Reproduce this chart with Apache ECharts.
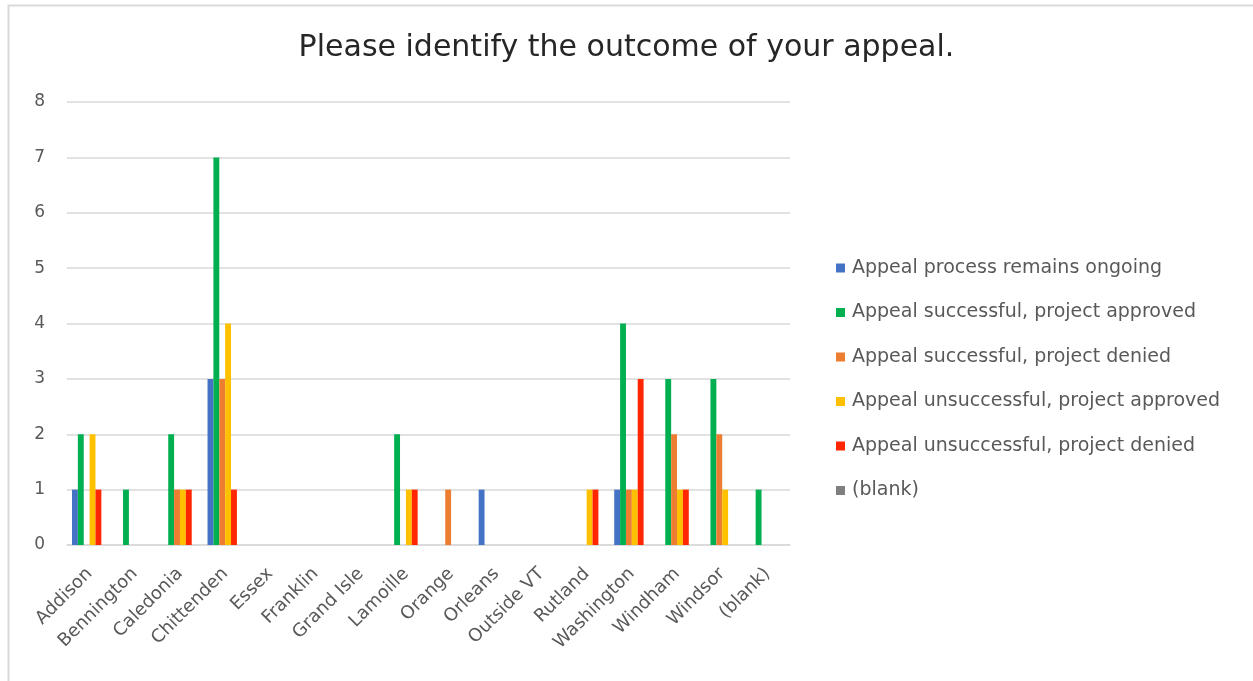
<!DOCTYPE html>
<html>
<head>
<meta charset="utf-8">
<script src="https://cdn.jsdelivr.net/npm/echarts@6/dist/echarts.min.js"></script>
<style>html,body{margin:0;padding:0;background:#fff}#c{width:1253px;height:681px}</style>
</head>
<body>
<div id="c"></div>
<script>
const categories = ["Addison","Bennington","Caledonia","Chittenden","Essex","Franklin","Grand Isle","Lamoille","Orange","Orleans","Outside VT","Rutland","Washington","Windham","Windsor","(blank)"];
const ongoing            = [1,0,0,3,0,0,0,0,0,1,0,0,1,0,0,0];
const successApproved    = [2,1,2,7,0,0,0,2,0,0,0,0,4,3,3,1];
const successDenied      = [0,0,1,3,0,0,0,0,1,0,0,0,1,2,2,0];
const unsuccessApproved  = [2,0,1,4,0,0,0,1,0,0,0,1,1,1,1,0];
const unsuccessDenied    = [1,0,1,1,0,0,0,1,0,0,0,1,3,1,0,0];
const blankSeries        = [0,0,0,0,0,0,0,0,0,0,0,0,0,0,0,0];
const seriesNames = ["Appeal process remains ongoing","Appeal successful, project approved","Appeal successful, project denied","Appeal unsuccessful, project approved","Appeal unsuccessful, project denied","(blank)"];
const yTicks = [0,1,2,3,4,5,6,7,8];
</script>
<script>
const chart = echarts.init(document.getElementById('c'), null, {renderer:'canvas'});
const colors = ['#4472C4','#00B050','#ED7D31','#FFC000','#FF2600','#7F7F7F'];
const dataArr = [ongoing, successApproved, successDenied, unsuccessApproved, unsuccessDenied, blankSeries];
const font = '"DejaVu Sans", "Open Sans", sans-serif';
chart.setOption({
  animation:false,
  color: colors,
  graphic:[{type:'rect', shape:{x:8.5,y:5.5,width:1400,height:800}, style:{fill:'none', stroke:'#d9d9d9', lineWidth:2}, silent:true}],
  title:{text:'Please identify the outcome of your appeal.', left:'center', top:28,
    textStyle:{fontFamily:font, fontSize:30, fontWeight:'normal', color:'#262626'}},
  legend:{orient:'vertical', left:831, top:253, itemWidth:9, itemHeight:9, itemGap:24.5, icon:'rect',
    textStyle:{fontFamily:font, fontSize:19, color:'#595959', lineHeight:20, padding:[0,0,0,2]},
    data: seriesNames},
  grid:{left:67, right:463, top:102, bottom:136, containLabel:false},
  xAxis:{type:'category', data:categories,
    axisLine:{lineStyle:{color:'#d9d9d9', width:1.5}}, axisTick:{show:false},
    axisLabel:{rotate:45, interval:0, margin:26, fontFamily:font, fontSize:18, color:'#595959'}},
  yAxis:{type:'value', min:0, max:8, interval:1,
    axisLine:{show:false}, axisTick:{show:false},
    splitLine:{lineStyle:{color:'#d9d9d9', width:1.5}},
    axisLabel:{margin:22, fontFamily:font, fontSize:17, color:'#595959'}},
  series: seriesNames.map((n,i)=>({name:n, type:'bar', data:dataArr[i], barGap:'0%', barCategoryGap:'22%'}))
});
</script>
</body>
</html>
